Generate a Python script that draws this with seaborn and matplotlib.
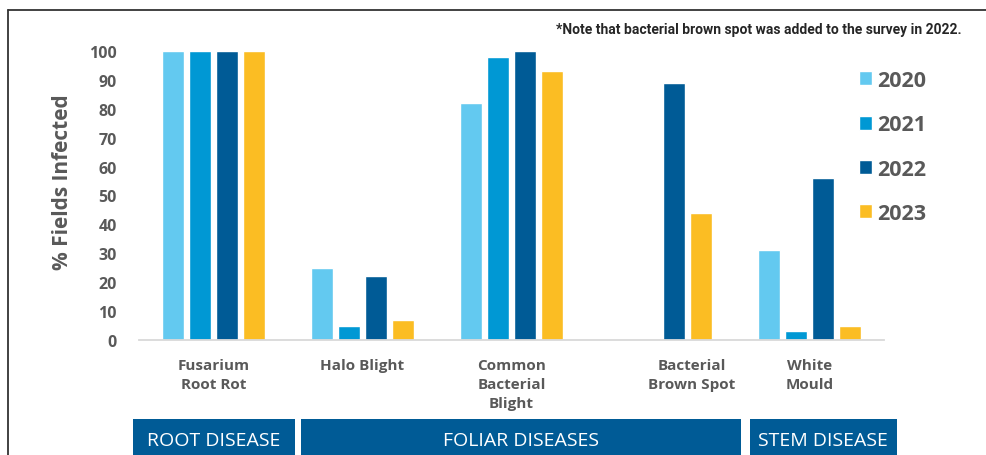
import matplotlib
matplotlib.use("Agg")
import matplotlib.pyplot as plt
import matplotlib.transforms as mtransforms
from matplotlib.lines import Line2D
from matplotlib.patches import Rectangle
import numpy as np
import pandas as pd
import seaborn as sns

# ---- data -------------------------------------------------------------
diseases = ["Fusarium\nRoot Rot", "Halo Blight", "Common\nBacterial\nBlight",
            "Bacterial\nBrown Spot", "White\nMould"]
years = ["2020", "2021", "2022", "2023"]
pct_2020 = [100, 25, 82, np.nan, 31]
pct_2021 = [100, 5, 98, np.nan, 3]
pct_2022 = [100, 22, 100, 89, 56]
pct_2023 = [100, 7, 93, 44, 5]
yticks = [0, 10, 20, 30, 40, 50, 60, 70, 80, 90, 100]

groups = ["ROOT DISEASE", "FOLIAR DISEASES", "STEM DISEASE"]
group_spans = [(-0.54, 0.547), (0.587, 3.54), (3.60, 4.587)]
note = "*Note that bacterial brown spot was added to the survey in 2022."

palette = ["#63C9F0", "#0098D4", "#005B96", "#FBBD23"]
GRAY = "#595959"
BANNER = "#005B96"

rows = []
for yr, vals in zip(years, [pct_2020, pct_2021, pct_2022, pct_2023]):
    for d, v in zip(diseases, vals):
        if not np.isnan(v):
            rows.append({"disease": d, "year": yr, "pct": v})
df = pd.DataFrame(rows)

# ---- figure -----------------------------------------------------------
sns.set_theme(style="white")
plt.rcParams["font.family"] = ["Open Sans", "DejaVu Sans"]

W, H = 987, 456
fig = plt.figure(figsize=(W / 100, H / 100), dpi=100)
fig.patch.set_facecolor("white")

x0, x1, ybase, ytop = 139, 884, 341, 52
ax = fig.add_axes([x0 / W, 1 - ybase / H, (x1 - x0) / W, (ybase - ytop) / H])
ax.set_facecolor("white")

sns.barplot(data=df, x="disease", y="pct", hue="year", order=diseases,
            hue_order=years, palette=palette, width=0.72, gap=0.18,
            saturation=1, ax=ax, legend=True)

ax.set_xlim(-0.5, 4.5)
ax.set_ylim(0, 100)
ax.set_yticks(yticks)
ax.set_yticklabels([str(t) for t in yticks], fontsize=11.5,
                   fontweight="bold", color=GRAY)
ax.tick_params(axis="y", length=0, pad=16)
ax.tick_params(axis="x", length=0, pad=13)
ax.set_xlabel("")
ax.set_ylabel("")
for side in ["top", "right", "left"]:
    ax.spines[side].set_visible(False)
ax.spines["bottom"].set_color("#D9D9D9")
ax.spines["bottom"].set_linewidth(1.3)

ax.set_xticks(range(len(diseases)))
ax.set_xticklabels(diseases, fontsize=11, fontweight="bold",
                   color=GRAY, linespacing=1.45)
# the brown-spot label sits a little right of its group
bbs = ax.get_xticklabels()[3]
bbs.set_transform(bbs.get_transform() +
                  mtransforms.ScaledTranslation(31 / 100, 0, fig.dpi_scale_trans))

fig.text(63 / W, 1 - 182 / H, "% Fields Infected", rotation=90,
         ha="center", va="center", fontsize=15, fontweight="bold", color=GRAY)

# legend
handles, labels = ax.get_legend_handles_labels()
ax.legend(handles, labels, loc="upper left",
          bbox_to_anchor=(859 / W, 1 - 71 / H), bbox_transform=fig.transFigure,
          frameon=False, borderaxespad=0, borderpad=0,
          handlelength=0.62, handleheight=0.62, handletextpad=0.22,
          labelspacing=1.08, prop={"size": 15.5, "weight": "bold"},
          labelcolor=GRAY)

# note
fig.text(962 / W, 1 - 30 / H, note, ha="right", va="center",
         fontsize=10, fontweight="bold", color="#262626",
         family=["Roboto", "DejaVu Sans"])

# category banners
blend = mtransforms.blended_transform_factory(ax.transData, fig.transFigure)
for name, (a, b) in zip(groups, group_spans):
    ax.add_patch(Rectangle((a, -0.1), b - a, 1 - 420 / H + 0.1,
                           transform=blend, facecolor=BANNER,
                           edgecolor="none", clip_on=False))
    ax.text((a + b) / 2, 1 - 441 / H, name, transform=blend, ha="center",
            va="center", fontsize=14, color="white")

# frame lines
fig.add_artist(Line2D([8 / W, 1], [1 - 11 / H, 1 - 11 / H],
                      transform=fig.transFigure, color="#333333", lw=1.3))
fig.add_artist(Line2D([8 / W, 8 / W], [0, 1 - 11 / H],
                      transform=fig.transFigure, color="#333333", lw=1.3))

fig.savefig("out.png", dpi=100, facecolor="white")
